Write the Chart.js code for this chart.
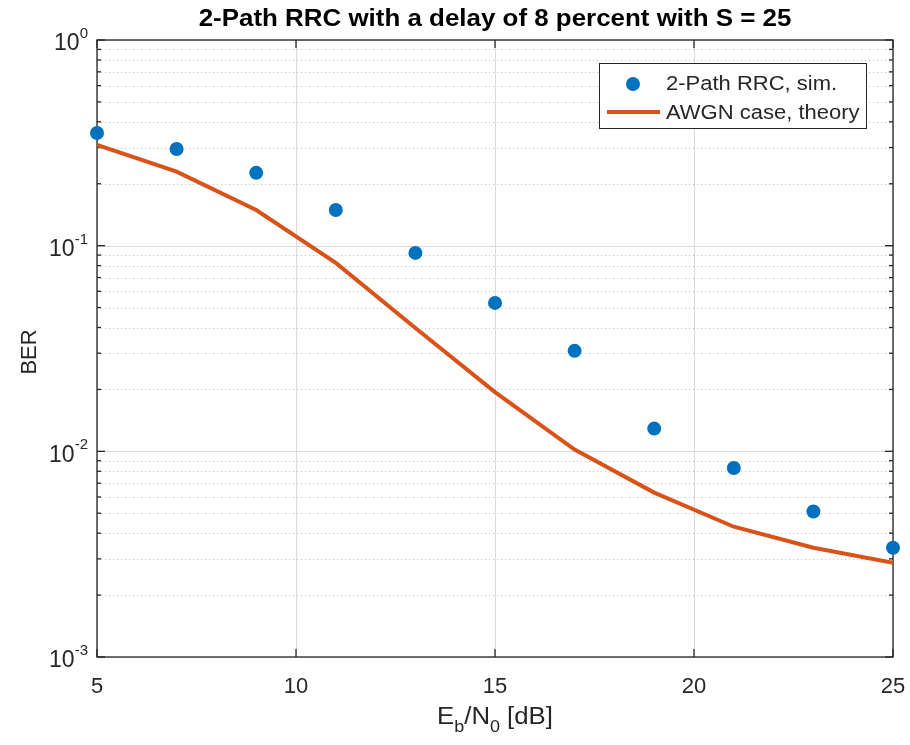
<!DOCTYPE html>
<html>
<head>
<meta charset="utf-8">
<title>2-Path RRC BER</title>
<script src="https://cdn.jsdelivr.net/npm/chart.js@4.4.1/dist/chart.umd.min.js"></script>
<style>
  html, body { margin: 0; padding: 0; background: #fff; }
</style>
</head>
<body>
<canvas id="berChart" width="910" height="745"></canvas>
<script>
// values
const ebno = [5, 7, 9, 11, 13, 15, 17, 19, 21, 23, 25];
const berSim = [0.353, 0.295, 0.226, 0.149, 0.0922, 0.0527, 0.0308, 0.0129, 0.0083, 0.0051, 0.0034];
const berAwgn = [0.309, 0.229, 0.149, 0.0824, 0.0398, 0.0194, 0.0102, 0.0063, 0.0043, 0.0034, 0.00287];
const xTicks = [5, 10, 15, 20, 25];
const yDecades = [-3, -2, -1, 0];
const seriesNames = ['2-Path RRC, sim.', 'AWGN case, theory'];
const titleText = '2-Path RRC with a delay of 8 percent with S = 25';

const FONT = '"Liberation Sans", Arial, Helvetica, sans-serif';
const AXIS = '#262626';
const BLUE = '#0072BD';
const ORANGE = '#D95319';

function seg(ctx, x1, y1, x2, y2) {
  ctx.beginPath(); ctx.moveTo(x1, y1); ctx.lineTo(x2, y2); ctx.stroke();
}

// text drawn a bit wider than the font, like the source figure
function wideText(ctx, txt, x, y, sx) {
  ctx.save();
  ctx.translate(x, y);
  ctx.scale(sx, 1);
  ctx.fillText(txt, 0, 0);
  ctx.restore();
}

const matlabAxes = {
  id: 'matlabAxes',
  beforeDatasetsDraw(chart) {
    const { ctx, chartArea: a, scales: { x, y } } = chart;
    ctx.save();
    ctx.lineWidth = 1;

    // minor y grid (dotted)
    ctx.strokeStyle = '#bdbdbd';
    ctx.setLineDash([1, 3]);
    yDecades.slice(0, -1).forEach(d => {
      for (let m = 2; m <= 9; m++) {
        const py = Math.round(y.getPixelForValue(m * Math.pow(10, d))) + 0.5;
        seg(ctx, a.left, py, a.right, py);
      }
    });

    // major grid
    ctx.setLineDash([]);
    ctx.strokeStyle = '#dadada';
    xTicks.forEach(v => {
      const px = Math.round(x.getPixelForValue(v)) + 0.5;
      seg(ctx, px, a.top, px, a.bottom);
    });
    yDecades.forEach(d => {
      const py = Math.round(y.getPixelForValue(Math.pow(10, d))) + 0.5;
      seg(ctx, a.left, py, a.right, py);
    });

    // box + inward ticks
    ctx.strokeStyle = AXIS;
    ctx.lineWidth = 1.3;
    ctx.strokeRect(a.left, a.top, a.right - a.left, a.bottom - a.top);
    xTicks.forEach(v => {
      const px = x.getPixelForValue(v);
      seg(ctx, px, a.bottom, px, a.bottom - 8);
      seg(ctx, px, a.top, px, a.top + 8);
    });
    yDecades.forEach(d => {
      const py = y.getPixelForValue(Math.pow(10, d));
      seg(ctx, a.left, py, a.left + 8, py);
      seg(ctx, a.right, py, a.right - 8, py);
      if (d < 0) {
        for (let m = 2; m <= 9; m++) {
          const pm = y.getPixelForValue(m * Math.pow(10, d));
          seg(ctx, a.left, pm, a.left + 4, pm);
          seg(ctx, a.right, pm, a.right - 4, pm);
        }
      }
    });

    // tick labels
    ctx.fillStyle = AXIS;
    ctx.textBaseline = 'middle';
    ctx.textAlign = 'center';
    ctx.font = '22px ' + FONT;
    xTicks.forEach(v => ctx.fillText(String(v), x.getPixelForValue(v), a.bottom + 30));

    yDecades.forEach(d => {
      const py = y.getPixelForValue(Math.pow(10, d));
      const exp = String(d);
      ctx.font = '15px ' + FONT;
      const we = ctx.measureText(exp).width;
      ctx.font = '23px ' + FONT;
      const wb = ctx.measureText('10').width;
      const right = a.left - 9;
      ctx.textAlign = 'left';
      ctx.fillText('10', right - we - wb, py + 4);
      ctx.font = '15px ' + FONT;
      ctx.fillText(exp, right - we, py - 6);
    });

    // x axis title with subscripts
    const sx = 1.12;
    const parts = [['E', 0], ['b', 1], ['/N', 0], ['0', 1], [' [dB]', 0]];
    let total = 0;
    parts.forEach(p => { ctx.font = (p[1] ? '16px ' : '23px ') + FONT; total += ctx.measureText(p[0]).width * sx; });
    let cx = (a.left + a.right) / 2 - total / 2;
    ctx.textAlign = 'left';
    parts.forEach(p => {
      ctx.font = (p[1] ? '16px ' : '23px ') + FONT;
      wideText(ctx, p[0], cx, a.bottom + 61 + (p[1] ? 10 : 0), sx);
      cx += ctx.measureText(p[0]).width * sx;
    });

    // y axis title
    ctx.save();
    ctx.translate(30, 352);
    ctx.rotate(-Math.PI / 2);
    ctx.textAlign = 'center';
    ctx.font = '22px ' + FONT;
    ctx.fillText('BER', 0, 0);
    ctx.restore();

    // title
    ctx.font = 'bold 24px ' + FONT;
    ctx.fillStyle = '#000';
    ctx.textAlign = 'left';
    const tw = ctx.measureText(titleText).width * 1.08;
    wideText(ctx, titleText, (a.left + a.right) / 2 - tw / 2, 19, 1.08);

    ctx.restore();
  },
  afterDatasetsDraw(chart) {
    const { ctx } = chart;
    const ds = chart.data.datasets;
    ctx.save();
    // legend box, top right inside the axes
    ctx.fillStyle = '#fff';
    ctx.fillRect(600, 64, 266, 64);
    ctx.strokeStyle = AXIS;
    ctx.lineWidth = 1;
    ctx.strokeRect(599.5, 63.5, 267, 65);

    ctx.fillStyle = ds[0].backgroundColor;
    ctx.beginPath(); ctx.arc(633, 84, 7, 0, Math.PI * 2); ctx.fill();
    ctx.strokeStyle = ds[1].borderColor;
    ctx.lineWidth = ds[1].borderWidth;
    seg(ctx, 607, 112, 660, 112);

    ctx.fillStyle = AXIS;
    ctx.font = '20px ' + FONT;
    ctx.textAlign = 'left';
    ctx.textBaseline = 'middle';
    wideText(ctx, ds[0].label, 666, 84, 1.1);
    wideText(ctx, ds[1].label, 666, 113, 1.1);
    ctx.restore();
  }
};

new Chart(document.getElementById('berChart'), {
  type: 'line',
  data: {
    datasets: [
      {
        label: seriesNames[0],
        data: ebno.map((v, i) => ({ x: v, y: berSim[i] })),
        showLine: false,
        backgroundColor: BLUE,
        borderColor: BLUE,
        pointRadius: 7,
        pointBorderWidth: 0,
        clip: false,
        order: 2
      },
      {
        label: seriesNames[1],
        data: ebno.map((v, i) => ({ x: v, y: berAwgn[i] })),
        borderColor: ORANGE,
        backgroundColor: ORANGE,
        borderWidth: 4,
        pointRadius: 0,
        tension: 0,
        order: 1
      }
    ]
  },
  options: {
    responsive: false,
    animation: false,
    events: [],
    layout: { padding: { left: 97, top: 40, right: 17, bottom: 88 } },
    scales: {
      x: { type: 'linear', min: 5, max: 25, display: false },
      y: { type: 'logarithmic', min: 0.001, max: 1, display: false }
    },
    plugins: { legend: { display: false }, title: { display: false }, tooltip: { enabled: false } }
  },
  plugins: [matlabAxes]
});
</script>
</body>
</html>
